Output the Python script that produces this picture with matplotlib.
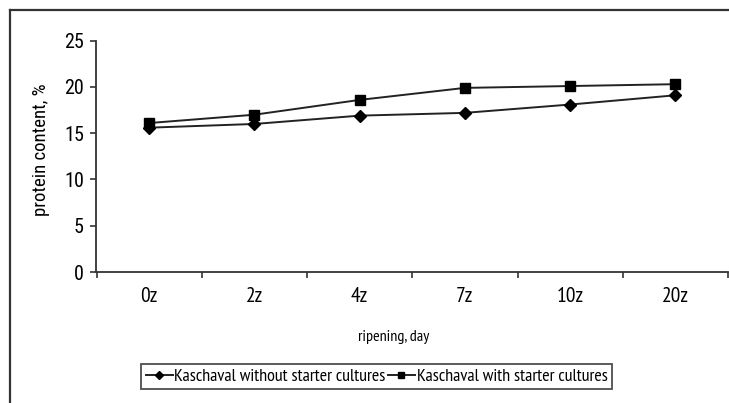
import matplotlib
matplotlib.use("Agg")
import matplotlib.pyplot as plt
from matplotlib.lines import Line2D

# Ripening stages and protein content (%)
days = ["0z", "2z", "4z", "7z", "10z", "20z"]
without_starter = [15.6, 16.0, 16.9, 17.2, 18.1, 19.1]
with_starter = [16.1, 17.0, 18.6, 19.9, 20.1, 20.3]
y_ticks = [0, 5, 10, 15, 20, 25]

plt.rcParams['font.family'] = ['Roboto Condensed', 'DejaVu Sans']
narrow = ['PT Sans Narrow', 'Roboto Condensed', 'DejaVu Sans']

W, H = 729, 403
fig = plt.figure(figsize=(W / 100, H / 100), dpi=100)
fig.patch.set_facecolor("white")

# outer chart frame (top and left edges)
fig.add_artist(Line2D([9.5 / W, 9.5 / W], [0, 1 - 9.5 / H], transform=fig.transFigure,
                      color="#333333", lw=1.6))
fig.add_artist(Line2D([9.5 / W, 1], [1 - 9.5 / H, 1 - 9.5 / H], transform=fig.transFigure,
                      color="#333333", lw=1.6))

left, right = 96.5, 728
top, bottom = 40.7, 272
ax = fig.add_axes([left / W, 1 - bottom / H, (right - left) / W, (bottom - top) / H])

x = list(range(len(days)))
ax.plot(x, without_starter, color="#222222", lw=1.4, marker="D", ms=6,
        mfc="black", mec="black", label="Kaschaval without starter cultures", clip_on=False)
ax.plot(x, with_starter, color="#222222", lw=1.4, marker="s", ms=7,
        mfc="black", mec="black", label="Kaschaval with starter cultures", clip_on=False)

ax.set_xlim(-0.5, len(days) - 0.5)
ax.set_ylim(0, 25)
ax.set_yticks(y_ticks)
ax.set_yticklabels([str(v) for v in y_ticks], fontsize=14.5)
ax.set_xticks(x)
ax.set_xticklabels(days, fontsize=15.5, family=narrow)
ax.set_xticks([i - 0.5 for i in range(len(days) + 1)], minor=True)
ax.tick_params(axis="x", which="major", length=0, pad=11)
ax.tick_params(axis="x", which="minor", length=4, width=1.2, color="#333333", direction="out")
ax.tick_params(axis="y", length=4, width=1.2, color="#333333", direction="out", pad=5)

for s in ["top", "right"]:
    ax.spines[s].set_visible(False)
for s in ["left", "bottom"]:
    ax.spines[s].set_color("#333333")
    ax.spines[s].set_linewidth(1.3)

ax.set_ylabel("protein content, %", fontsize=13.5, va="center")
ax.yaxis.set_label_coords(-0.088, 0.528)
ax.set_xlabel("ripening, day", fontsize=11.5, va="center", family=narrow)
ax.xaxis.set_label_coords(0.471, -0.281)

leg = fig.legend(loc="center", bbox_to_anchor=((143 + 610) / 2 / W, 1 - 376.5 / H),
                 ncol=2, fontsize=13, prop={'family': narrow, 'size': 13},
                 frameon=True, fancybox=False, edgecolor="#222222",
                 handlelength=1.5, handletextpad=0.1, columnspacing=0.1,
                 borderpad=0.25, borderaxespad=0, markerscale=0.7)
leg.get_frame().set_linewidth(1.3)

fig.savefig("out.png", dpi=100)
